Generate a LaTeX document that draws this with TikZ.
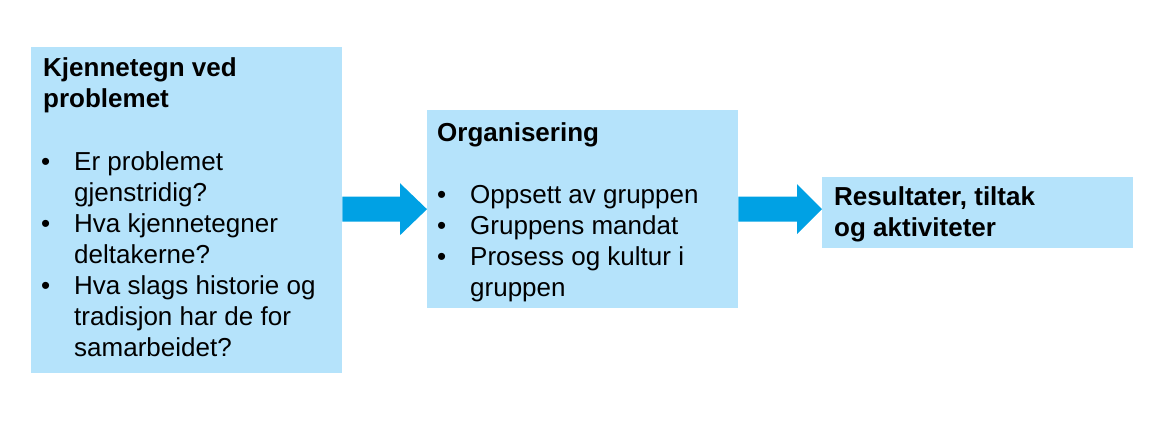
\documentclass[tikz,border=0pt]{standalone}
\usepackage{fontspec}
\setmainfont{Liberation Sans}
\usetikzlibrary{calc}
\definecolor{boxc}{HTML}{B5E3FB}
\definecolor{arrc}{HTML}{00A1E4}
\tikzset{
  box/.style={fill=boxc, draw=none, anchor=north west, inner sep=0pt},
  txt/.style={anchor=base west, inner sep=0pt, font=\fontsize{26pt}{31pt}\selectfont},
  hdr/.style={txt, font=\fontsize{26pt}{31pt}\selectfont\bfseries},
  arr/.style={fill=arrc, draw=none}
}
\begin{document}
\begin{tikzpicture}[x=1pt,y=-1pt]
\useasboundingbox (0,0) rectangle (1150,420);
% boxes
\node[box, minimum width=311pt, minimum height=326pt] (b1) at (31,47) {};
\node[box, minimum width=311pt, minimum height=198pt] (b2) at (427,110) {};
\node[box, minimum width=311pt, minimum height=71pt] (b3) at (822,177) {};
% box 1 text
\node[hdr] (h1a) at (43,77) {Kjennetegn ved};
\node[hdr] (h1b) at (43,107) {problemet};
\node[txt] (d1) at (41,170) {•};
\node[txt] (t1a) at (74,170) {Er problemet};
\node[txt] (t1b) at (74,201) {gjenstridig?};
\node[txt] (d2) at (41,232) {•};
\node[txt] (t1c) at (74,232) {Hva kjennetegner};
\node[txt] (t1d) at (74,263) {deltakerne?};
\node[txt] (d3) at (41,294) {•};
\node[txt] (t1e) at (74,294) {Hva slags historie og};
\node[txt] (t1f) at (74,325) {tradisjon har de for};
\node[txt] (t1g) at (74,356) {samarbeidet?};
% box 2 text
\node[hdr] (h2) at (437,141) {Organisering};
\node[txt] (d4) at (437,203) {•};
\node[txt] (t2a) at (470,203) {Oppsett av gruppen};
\node[txt] (d5) at (437,234) {•};
\node[txt] (t2b) at (470,234) {Gruppens mandat};
\node[txt] (d6) at (437,265) {•};
\node[txt] (t2c) at (470,265) {Prosess og kultur i};
\node[txt] (t2d) at (470,296) {gruppen};
% box 3 text
\node[hdr] (h3a) at (834,205) {Resultater, tiltak};
\node[hdr] (h3b) at (834,236) {og aktiviteter};
% arrows
\fill[arr] ($(b1.east |- b2.west)+(0,-12.5)$) -- ($(b2.west)+(-27,-12.5)$) -- ($(b2.west)+(-27,-26)$) -- (b2.west)
  -- ($(b2.west)+(-27,26)$) -- ($(b2.west)+(-27,12.5)$) -- ($(b1.east |- b2.west)+(0,12.5)$) -- cycle;
\coordinate (tip2) at (b3.west |- b2.east);
\fill[arr] ($(b2.east)+(0,-12.5)$) -- ($(tip2)+(-25,-12.5)$) -- ($(tip2)+(-25,-25)$) -- (tip2)
  -- ($(tip2)+(-25,25)$) -- ($(tip2)+(-25,12.5)$) -- ($(b2.east)+(0,12.5)$) -- cycle;
\end{tikzpicture}
\end{document}
